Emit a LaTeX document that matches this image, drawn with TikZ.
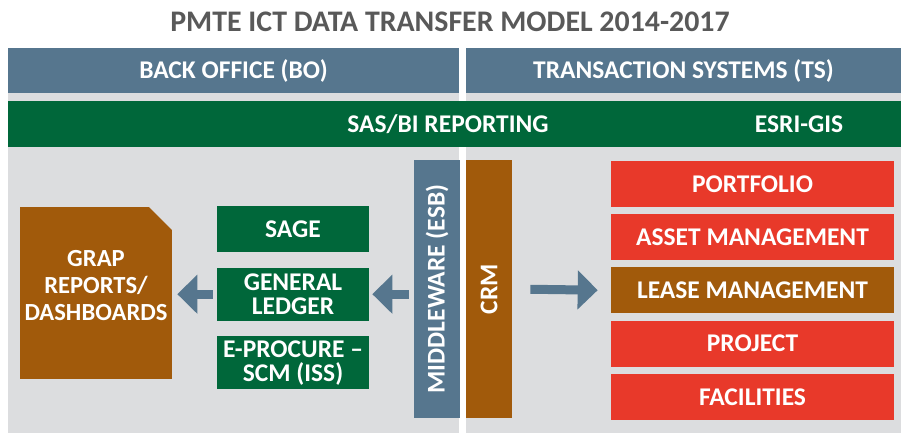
\documentclass[tikz,border=0pt]{standalone}
\usepackage{fontspec}
\setmainfont{Carlito}
\usetikzlibrary{arrows.meta, positioning}

\definecolor{slate}{HTML}{56768E}
\definecolor{forest}{HTML}{00673A}
\definecolor{rust}{HTML}{A15A0B}
\definecolor{signal}{HTML}{E8392A}
\definecolor{panel}{HTML}{DCDDDF}
\definecolor{caption}{HTML}{595959}

\tikzstyle{label} = [font=\bfseries\fontsize{14.5}{16}\selectfont, text=white]
\tikzstyle{backdrop} = [rectangle, fill=panel, minimum height=6.8cm, inner sep=0pt]
\tikzstyle{band} = [rectangle, fill=slate, label, minimum height=0.9cm, inner sep=0pt]
\tikzstyle{module} = [rectangle, fill=forest, label, font=\bfseries\fontsize{14.5}{14}\selectfont, align=center, minimum width=3.04cm, minimum height=1.06cm, inner sep=0pt]
\tikzstyle{system} = [rectangle, fill=signal, label, minimum width=5.66cm, minimum height=0.92cm, inner sep=0pt]
\tikzstyle{pillar} = [rectangle, rotate=90, label, minimum width=5.16cm, minimum height=0.92cm, inner sep=0pt]
\tikzstyle{sheet} = [rectangle, label, font=\bfseries\fontsize{14}{15.5}\selectfont, align=center, text depth=0.3cm, minimum width=3.04cm, minimum height=3.44cm, inner sep=0pt,
  path picture={\fill[rust] (path picture bounding box.south west) |- ([xshift=-0.46cm]path picture bounding box.north east)
    -- ([yshift=-0.46cm]path picture bounding box.north east) -- (path picture bounding box.south east) -- cycle;}]
\tikzstyle{flow} = [line width=0.18cm, slate, -{Triangle[length=0.4cm, width=0.76cm]}]

\begin{document}
\begin{tikzpicture}[x=0.02cm, y=-0.02cm]
    \useasboundingbox (0,0) rectangle (901,435);

    % Title and section headers
    \node (title) at (450,22) [font=\bfseries\fontsize{17}{19}\selectfont, text=caption] {PMTE ICT DATA TRANSFER MODEL 2014-2017};
    \node (lpanel) at (233.5,263) [backdrop, minimum width=9.02cm] {};
    \node (rpanel) at (683.5,263) [backdrop, minimum width=8.7cm] {};
    \node (bo) at (233.5,70.5) [band, minimum width=9.02cm] {BACK OFFICE (BO)};
    \node (ts) at (683.5,70.5) [band, minimum width=8.7cm] {TRANSACTION SYSTEMS (TS)};

    % Reporting bar
    \node (bar) at (454.5,124) [rectangle, fill=forest, minimum width=17.86cm, minimum height=0.92cm] {};
    \node (sasbi) at (448,124) [label] {SAS/BI REPORTING};
    \node (gis) at (799,124) [label] {ESRI-GIS};

    % Back office
    \node (grap) at (96,293) [sheet] {GRAP\\REPORTS/\\DASHBOARDS};
    \node (sage) at (293,229) [module, minimum height=0.92cm] {SAGE};
    \node (gl) [module, below=0.3cm of sage] {GENERAL\\LEDGER};
    \node (eproc) [module, below=0.3cm of gl] {E-PROCURE –\\SCM (ISS)};

    % Middleware and CRM (rotated, so north is the left side)
    \node (mw) at (437,289) [pillar, fill=slate] {MIDDLEWARE (ESB)};
    \node (crm) at (489,289) [pillar, fill=rust] {CRM};

    % Transaction systems
    \node (portfolio) at (752.5,184) [system] {PORTFOLIO};
    \node (asset) [system, below=0.13cm of portfolio] {ASSET MANAGEMENT};
    \node (lease) [system, fill=rust, below=0.13cm of asset] {LEASE MANAGEMENT};
    \node (project) [system, below=0.13cm of lease] {PROJECT};
    \node (facilities) [system, below=0.13cm of project] {FACILITIES};

    % ==== Arrows
    \draw [flow, shorten <=0.1cm, shorten >=0.06cm] (mw.north |- gl.east) -- (gl.east);
    \draw [flow, shorten <=0.08cm, shorten >=0.1cm] (gl.west) -- (grap.east |- gl.west);
    \draw [flow, shorten <=0.36cm, shorten >=0.26cm] (crm.south) -- (lease.west);

\end{tikzpicture}
\end{document}
